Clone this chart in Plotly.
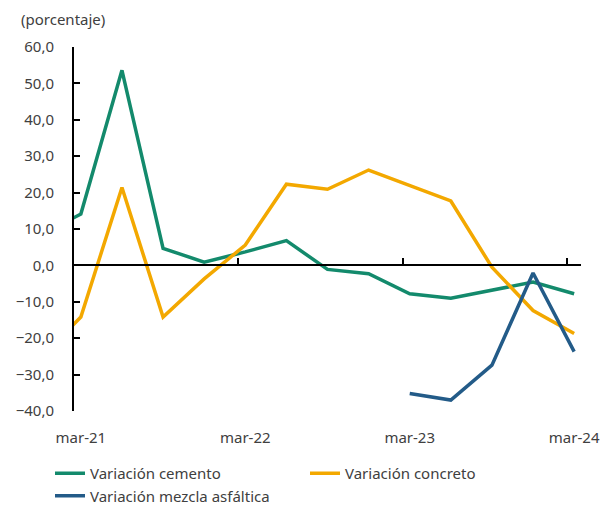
import plotly.graph_objects as go

# Quarterly periods (Spanish month abbreviations)
periods = ["dic-20", "mar-21", "jun-21", "sep-21", "dic-21", "mar-22", "jun-22",
           "sep-22", "dic-22", "mar-23", "jun-23", "sep-23", "dic-23", "mar-24"]
cemento = [8.3, 14.1, 53.6, 4.7, 0.9, 3.7, 6.8, -1.1, -2.3, -7.8, -9.0, -6.8, -4.6, -7.8]
concreto = [-25.6, -14.2, 21.4, -14.2, -3.7, 5.6, 22.3, 20.9, 26.2, 22.0, 17.7, -0.5, -12.4, -18.7]
mezcla = [None, None, None, None, None, None, None, None, None, -35.2, -37.0, -27.4, -2.1, -23.7]

tick_labels = ["mar-21", "mar-22", "mar-23", "mar-24"]
y_ticks = [-40, -30, -20, -10, 0, 10, 20, 30, 40, 50, 60]

MONTHS = {"ene": 1, "feb": 2, "mar": 3, "abr": 4, "may": 5, "jun": 6,
          "jul": 7, "ago": 8, "sep": 9, "oct": 10, "nov": 11, "dic": 12}


def month_index(label):
    m, y = label.split("-")
    return (2000 + int(y) - 2021) * 12 + MONTHS[m] - 3


x = [month_index(p) for p in periods]
tick_pos = [month_index(t) for t in tick_labels]
tick_marks = [t - 0.5 for t in tick_pos]

GREEN = "#138a6c"
ORANGE = "#f3a800"
BLUE = "#235b88"
TXT = "#404040"
FONT = "Noto Sans"
FS = 15

fig = go.Figure()
fig.add_trace(go.Scatter(x=x, y=cemento, mode="lines", name="Variación cemento",
                         line=dict(color=GREEN, width=3.5)))
fig.add_trace(go.Scatter(x=x, y=concreto, mode="lines", name="Variación concreto",
                         line=dict(color=ORANGE, width=3.5)))
fig.add_trace(go.Scatter(x=x, y=mezcla, mode="lines", name="Variación mezcla asfáltica",
                         line=dict(color=BLUE, width=3.5), connectgaps=False,
                         xaxis="x2"))

# page body has an 8px default margin, so the figure is sized to fit beside it
W, H = 605, 500
xr = [-0.5, 36.5]
fig.update_layout(
    width=W, height=H,
    margin=dict(l=66, r=32, t=39, b=97, autoexpand=False),
    paper_bgcolor="white", plot_bgcolor="white",
    separators=",.",
    font=dict(family=FONT, size=FS, color=TXT),
    showlegend=True,
    legend=dict(orientation="h", xref="container", yref="container",
                x=42 / W, xanchor="left", y=1 - 449 / H, yanchor="top",
                entrywidth=210, entrywidthmode="pixels",
                font=dict(family=FONT, size=FS, color=TXT), tracegroupgap=0),
    xaxis=dict(range=xr, tickmode="array", tickvals=tick_pos, ticktext=tick_labels,
               ticks="", showline=False, showgrid=False, zeroline=False,
               ticklabelstandoff=16, tickfont=dict(size=FS, color=TXT)),
    xaxis2=dict(range=xr, overlaying="x", anchor="free", position=0.4, side="bottom",
                tickmode="array", tickvals=tick_marks, ticks="inside", ticklen=6,
                tickwidth=2, tickcolor="black", showticklabels=False,
                showline=True, linecolor="black", linewidth=2,
                showgrid=False, zeroline=False),
    yaxis=dict(range=[-40, 60], tickmode="array", tickvals=y_ticks, tickformat=".1f",
               ticks="inside", ticklen=6, tickwidth=2, tickcolor="black",
               showline=True, linecolor="black", linewidth=2,
               showgrid=False, zeroline=False, ticklabelstandoff=15,
               tickfont=dict(size=FS, color=TXT)),
    annotations=[dict(text="(porcentaje)", xref="paper", yref="paper",
                      x=-0.108, y=1.077, xanchor="left", yanchor="middle",
                      showarrow=False, font=dict(family=FONT, size=FS, color=TXT))],
)

fig.write_html("out.html")
